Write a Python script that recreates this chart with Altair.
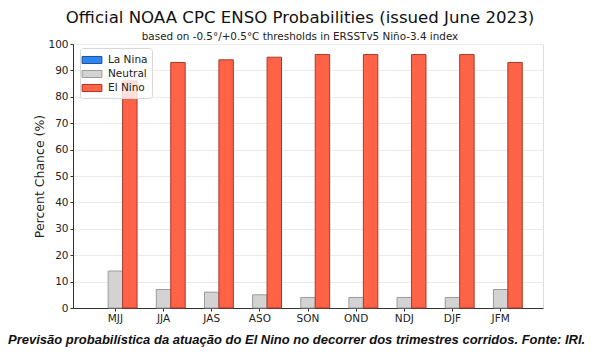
import altair as alt
import pandas as pd

seasons = ["MJJ", "JJA", "JAS", "ASO", "SON", "OND", "NDJ", "DJF", "JFM"]
categories = ["La Nina", "Neutral", "El Nino"]
la_nina = [0, 0, 0, 0, 0, 0, 0, 0, 0]
neutral = [14, 7, 6, 5, 4, 4, 4, 4, 7]
el_nino = [86, 93, 94, 95, 96, 96, 96, 96, 93]
fills = ["#2f86f0", "#d3d3d3", "#ff6347"]
edges = ["#1b4f9a", "#9a9a9a", "#a83a2a"]

rows = []
for i, s in enumerate(seasons):
    for cat, vals in zip(categories, [la_nina, neutral, el_nino]):
        rows.append({"season": s, "category": cat, "value": vals[i]})
df = pd.DataFrame(rows)

W, H = 470, 264

bars = alt.Chart(df).transform_filter("datum.value > 0").mark_bar(strokeWidth=1).encode(
    x=alt.X("season:N", sort=seasons, title=None,
            scale=alt.Scale(paddingInner=0.1, paddingOuter=0.43),
            axis=alt.Axis(labelAngle=0, labelFont="DejaVu Sans", labelFontSize=10.5,
                          labelColor="#222", domainColor="#333", tickColor="#333",
                          tickSize=3, labelPadding=2, grid=False)),
    xOffset=alt.XOffset("category:N", sort=categories,
                        scale=alt.Scale(domain=categories, paddingInner=0, paddingOuter=0)),
    y=alt.Y("value:Q", title="Percent Chance (%)",
            scale=alt.Scale(domain=[0, 100], nice=False),
            axis=alt.Axis(values=list(range(0, 101, 10)), labelFont="DejaVu Sans",
                          labelFontSize=10.5, labelColor="#222", domainColor="#333",
                          tickColor="#333", tickSize=3, gridColor="#ebebeb",
                          titleFont="DejaVu Sans", titleFontSize=12.5,
                          titleFontWeight="normal", titleColor="#222", titlePadding=1)),
    color=alt.Color("category:N", sort=categories,
                    scale=alt.Scale(domain=categories, range=fills),
                    legend=alt.Legend(title=None, orient="none", legendX=7, legendY=4,
                                      symbolType="M-1.4,-0.5H1.4V0.5H-1.4Z", symbolSize=200,
                                      symbolStrokeWidth=1, labelFont="DejaVu Sans",
                                      labelFontSize=10.5, labelColor="#222",
                                      rowPadding=0, padding=4, labelOffset=8,
                                      fillColor="rgba(255,255,255,0.8)",
                                      strokeColor="#d8d8d8", cornerRadius=3)),
    stroke=alt.Stroke("category:N", sort=categories,
                      scale=alt.Scale(domain=categories, range=edges)),
)

caption = alt.Chart(pd.DataFrame({"t": ["Previsão probabilística da atuação do El Nino no decorrer dos trimestres corridos. Fonte: IRI."]})).mark_text(
    align="left", baseline="middle", font="Liberation Sans", fontSize=13,
    fontWeight="bold", fontStyle="italic", color="#111"
).encode(x=alt.value(-65), y=alt.value(H + 32), text="t:N")

chart = alt.layer(bars, caption).properties(
    width=W, height=H,
    autosize=alt.AutoSizeParams(type="none"),
    padding={"left": 65, "top": 36, "right": 48, "bottom": 50},
    title=alt.TitleParams(
        "Official NOAA CPC ENSO Probabilities (issued June 2023)",
        subtitle="based on -0.5°/+0.5°C thresholds in ERSSTv5 Niño-3.4 index",
        font="DejaVu Sans", fontSize=16.6, fontWeight="normal", color="#111",
        subtitleFont="DejaVu Sans", subtitleFontSize=10.4, subtitleColor="#222",
        subtitlePadding=5, offset=-3, anchor="middle", dx=-8,
    ),
).configure_view(stroke="#9a9a9a", strokeWidth=1).configure(background="white")

chart.save("out.html", embed_options={"renderer": "svg", "actions": False})
